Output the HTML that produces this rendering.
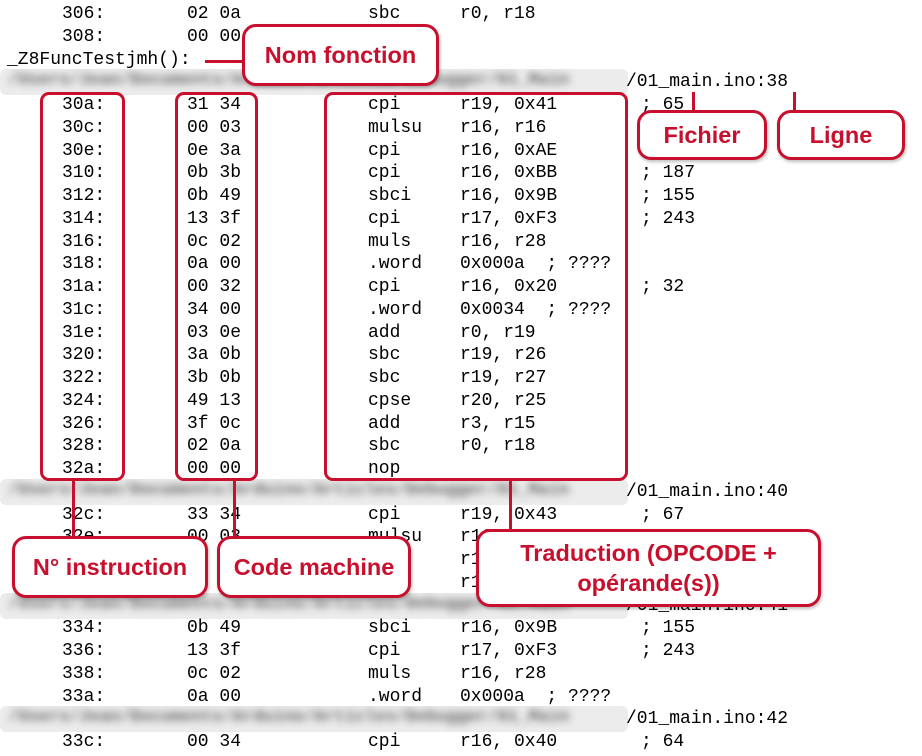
<!DOCTYPE html>
<html><head><meta charset="utf-8"><style>
html,body{margin:0;padding:0;background:#fff;}
body{width:922px;height:756px;position:relative;overflow:hidden;font-family:"Liberation Mono","DejaVu Sans Mono",monospace;font-size:18px;color:#000;}
.t{position:absolute;white-space:pre;line-height:22px;}
.blur{position:absolute;left:0;width:628px;height:26px;background:#ececec;border-radius:6px;overflow:hidden;}
.blur span{position:absolute;left:8px;top:2px;white-space:pre;color:#666;filter:blur(4px);font-size:17px;font-weight:bold;}
.box{position:absolute;border:3px solid #c8102e;border-radius:9px;box-sizing:border-box;}
.lab{position:absolute;border:3px solid #c8102e;border-radius:14px;box-sizing:border-box;background:#fff;color:#c8102e;font-family:"Liberation Sans",Arial,sans-serif;font-weight:bold;font-size:23.5px;display:flex;align-items:center;justify-content:center;text-align:center;line-height:30px;box-shadow:1px 2px 3px rgba(0,0,0,.25);}
.ln{position:absolute;background:#c8102e;}
</style></head><body>
<div id="c"></div>
<script>
var rows=[
["306:","02 0a","sbc","r0, r18",""],
["308:","00 00","nop","",""],
null,null,
["30a:","31 34","cpi","r19, 0x41","; 65"],
["30c:","00 03","mulsu","r16, r16",""],
["30e:","0e 3a","cpi","r16, 0xAE",""],
["310:","0b 3b","cpi","r16, 0xBB","; 187"],
["312:","0b 49","sbci","r16, 0x9B","; 155"],
["314:","13 3f","cpi","r17, 0xF3","; 243"],
["316:","0c 02","muls","r16, r28",""],
["318:","0a 00",".word","0x000a  ; ????",""],
["31a:","00 32","cpi","r16, 0x20","; 32"],
["31c:","34 00",".word","0x0034  ; ????",""],
["31e:","03 0e","add","r0, r19",""],
["320:","3a 0b","sbc","r19, r26",""],
["322:","3b 0b","sbc","r19, r27",""],
["324:","49 13","cpse","r20, r25",""],
["326:","3f 0c","add","r3, r15",""],
["328:","02 0a","sbc","r0, r18",""],
["32a:","00 00","nop","",""],
"40",
["32c:","33 34","cpi","r19, 0x43","; 67"],
["32e:","00 03","mulsu","r16, r16",""],
["330:","0e 3a","cpi","r16, 0xAE",""],
["332:","0b 3b","cpi","r16, 0xBB","; 187"],
"41",
["334:","0b 49","sbci","r16, 0x9B","; 155"],
["336:","13 3f","cpi","r17, 0xF3","; 243"],
["338:","0c 02","muls","r16, r28",""],
["33a:","0a 00",".word","0x000a  ; ????",""],
"42",
["33c:","00 34","cpi","r16, 0x40","; 64"]
];
var xs=[62,187,368,460,641],h="";
rows.forEach(function(r,i){
 var c=14+i*22.75, top=c-11;
 if(r===null) return;
 if(typeof r==="string"){
  h+='<div class="blur" style="top:'+(c-13)+'px"><span>/Users/Jean/Documents/Arduino/Articles/Debugger/01_Main</span></div>';
  h+='<div class="t" style="left:626px;top:'+top+'px">/01_main.ino:'+r+'</div>';
  return;
 }
 r.forEach(function(s,j){ if(s) h+='<div class="t" style="left:'+xs[j]+'px;top:'+top+'px">'+s+'</div>'; });
});
h+='<div class="t" style="left:7px;top:'+(14+2*22.75-11)+'px">_Z8FuncTestjmh():</div>';
h+='<div class="blur" style="top:'+(14+3*22.75-13)+'px"><span>/Users/Jean/Documents/Arduino/Articles/Debugger/01_Main</span></div>';
h+='<div class="t" style="left:626px;top:'+(14+3*22.75-11)+'px">/01_main.ino:38</div>';
document.getElementById('c').innerHTML=h;
</script>
<div class="box" style="left:40px;top:92px;width:85px;height:389px"></div>
<div class="box" style="left:175px;top:92px;width:83px;height:389px"></div>
<div class="box" style="left:324px;top:92px;width:304px;height:389px"></div>

<div class="ln" style="left:205px;top:60px;width:40px;height:3px"></div>
<div class="ln" style="left:692px;top:92px;width:3px;height:20px"></div>
<div class="ln" style="left:793px;top:92px;width:3px;height:20px"></div>
<div class="ln" style="left:72px;top:480px;width:3px;height:58px"></div>
<div class="ln" style="left:233px;top:480px;width:3px;height:58px"></div>
<div class="ln" style="left:509px;top:480px;width:3px;height:52px"></div>

<div class="lab" style="left:242px;top:24px;width:197px;height:62px">Nom fonction</div>
<div class="lab" style="left:637px;top:110px;width:130px;height:50px">Fichier</div>
<div class="lab" style="left:777px;top:110px;width:128px;height:50px">Ligne</div>
<div class="lab" style="left:12px;top:536px;width:196px;height:62px">N° instruction</div>
<div class="lab" style="left:217px;top:536px;width:194px;height:62px">Code machine</div>
<div class="lab" style="left:476px;top:529px;width:345px;height:78px">Traduction (OPCODE +<br>opérande(s))</div>
</body></html>
